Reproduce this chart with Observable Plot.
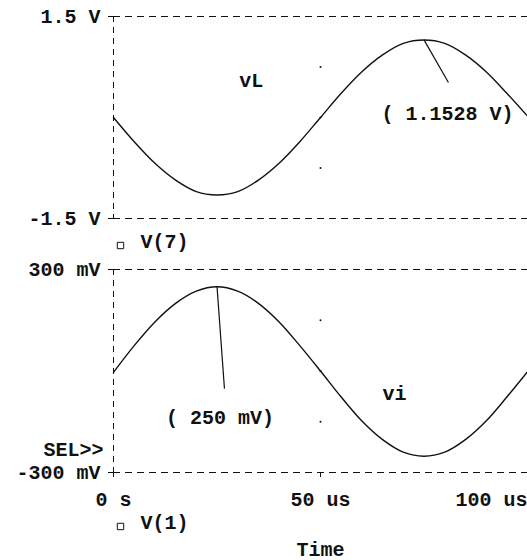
<!DOCTYPE html>
<html><head><meta charset="utf-8">
<script src="https://cdn.jsdelivr.net/npm/d3@7"></script>
<script src="https://cdn.jsdelivr.net/npm/@observablehq/plot@0.6"></script>
<style>
body{margin:0;background:#fff}
#chart{position:relative;width:527px;height:560px;overflow:hidden;background:#fff}
#chart svg{position:absolute;left:0}
</style></head><body><div id="chart"></div>
<script>
// time in microseconds
const time = [0,5,10,15,20,25,30,35,40,45,50,55,60,65,70,75,80,85,90,95,100];
// V(7) = vL in volts
const vL = [0,-0.36,-0.68,-0.93,-1.10,-1.15,-1.10,-0.93,-0.68,-0.36,0,0.36,0.68,0.93,1.10,1.15,1.10,0.93,0.68,0.36,0.02];
// V(1) = vi in millivolts
const vi = [-4,75,145,200,236,249,236,200,145,75,0,-77,-148,-203,-240,-252,-240,-203,-148,-77,-2];

const xTicks = [0,50,100];
const xTickLabels = ["0 s","50 us","100 us"];
const yTicksTop = [-1.5,1.5];
const yTickLabelsTop = ["-1.5 V","1.5 V"];
const yTicksBot = [-300,300];
const yTickLabelsBot = ["-300 mV","300 mV"];
const gridTop = [-0.75,0,0.75];
const gridBot = [-150,0,150];

const topLabel = {text:"vL", t:33.3, v:0.55};
const topMark = {text:"( 1.1528 V)", t:80.7, v:0.06, peakT:75, peakV:1.1528, endT:80.9, endV:0.52};
const botLabel = {text:"vi", t:67.9, v:-66};
const botMark = {text:"( 250 mV)", t:25.7, v:-137, peakT:25, peakV:250, endT:26.8, endV:-52};
const legendTop = "V(7)";
const legendBot = "V(1)";
const selLabel = "SEL>>";
const xTitle = "Time";

const font = {fontFamily:"'Liberation Mono', 'Courier New', monospace", fontSize:"20px", fontWeight:"bold", background:"transparent", color:"#111", overflow:"visible"};
const ink = "#111";
const dashH = "7,5";
const dashV = "6,5";

const toData = (vals) => time.map((t,i)=>({t, v: vals[i]}));
const fmt = (ticks, labels) => (d) => labels[ticks.indexOf(d)];

const topPlot = Plot.plot({
  width:527, height:255, marginLeft:113, marginRight:0, marginTop:16, marginBottom:37,
  style: font,
  x:{domain:[0,100], axis:null},
  y:{domain:[-1.5,1.5], axis:null},
  marks:[
    Plot.ruleY(yTicksTop, {stroke:ink, strokeWidth:1, strokeDasharray:dashH}),
    Plot.ruleX([0], {stroke:ink, strokeWidth:1, strokeDasharray:dashV}),
    Plot.axisY({ticks:yTicksTop, tickFormat:fmt(yTicksTop,yTickLabelsTop), tickSize:5, tickPadding:8, stroke:ink, fill:ink}),
    Plot.dot(gridTop, {x:()=>50, y:d=>d, r:1, fill:ink, stroke:null}),
    Plot.line(toData(vL), {x:"t", y:"v", stroke:ink, strokeWidth:1.4, curve:"catmull-rom"}),
    Plot.link([topMark], {x1:"peakT", y1:"peakV", x2:"endT", y2:"endV", stroke:ink, strokeWidth:1.2}),
    Plot.text([topMark], {x:"t", y:"v", text:"text", fill:ink}),
    Plot.text([topLabel], {x:"t", y:"v", text:"text", fill:ink}),
    Plot.dot([legendTop], {frameAnchor:"bottom-left", dx:7, dy:27, symbol:"square", r:3.6, stroke:ink, strokeWidth:1, fill:"none"}),
    Plot.text([legendTop], {frameAnchor:"bottom-left", dx:27, dy:29, text:d=>d, textAnchor:"start", fill:ink})
  ]
});
topPlot.style.top = "0px";

const botPlot = Plot.plot({
  width:527, height:305, marginLeft:113, marginRight:0, marginTop:14, marginBottom:88,
  style: font,
  x:{domain:[0,100], axis:null},
  y:{domain:[-300,300], axis:null},
  marks:[
    Plot.ruleY(yTicksBot, {stroke:ink, strokeWidth:1, strokeDasharray:dashH}),
    Plot.ruleX([0], {stroke:ink, strokeWidth:1, strokeDasharray:dashV}),
    Plot.axisY({ticks:yTicksBot, tickFormat:fmt(yTicksBot,yTickLabelsBot), tickSize:5, tickPadding:8, stroke:ink, fill:ink}),
    Plot.axisX({ticks:[0,50], tickFormat:fmt(xTicks,xTickLabels), tickSize:5, tickPadding:14, stroke:ink, fill:ink}),
    Plot.axisX({ticks:[100], tickFormat:fmt(xTicks,xTickLabels), tickSize:0, tickPadding:19, textAnchor:"end", fill:ink}),
    Plot.dot(gridBot, {x:()=>50, y:d=>d, r:1, fill:ink, stroke:null}),
    Plot.line(toData(vi), {x:"t", y:"v", stroke:ink, strokeWidth:1.4, curve:"catmull-rom"}),
    Plot.link([botMark], {x1:"peakT", y1:"peakV", x2:"endT", y2:"endV", stroke:ink, strokeWidth:1.2}),
    Plot.text([botMark], {x:"t", y:"v", text:"text", fill:ink}),
    Plot.text([botLabel], {x:"t", y:"v", text:"text", fill:ink}),
    Plot.text([selLabel], {frameAnchor:"bottom-left", dx:-10, dy:-17, text:d=>d, textAnchor:"end", fill:ink}),
    Plot.dot([legendBot], {frameAnchor:"bottom-left", dx:7, dy:54, symbol:"square", r:3.6, stroke:ink, strokeWidth:1, fill:"none"}),
    Plot.text([legendBot], {frameAnchor:"bottom-left", dx:27, dy:56, text:d=>d, textAnchor:"start", fill:ink}),
    Plot.text([xTitle], {frameAnchor:"bottom", dy:83, text:d=>d, fill:ink})
  ]
});
botPlot.style.top = "255px";

const c = document.getElementById("chart");
c.appendChild(topPlot);
c.appendChild(botPlot);
</script></body></html>
